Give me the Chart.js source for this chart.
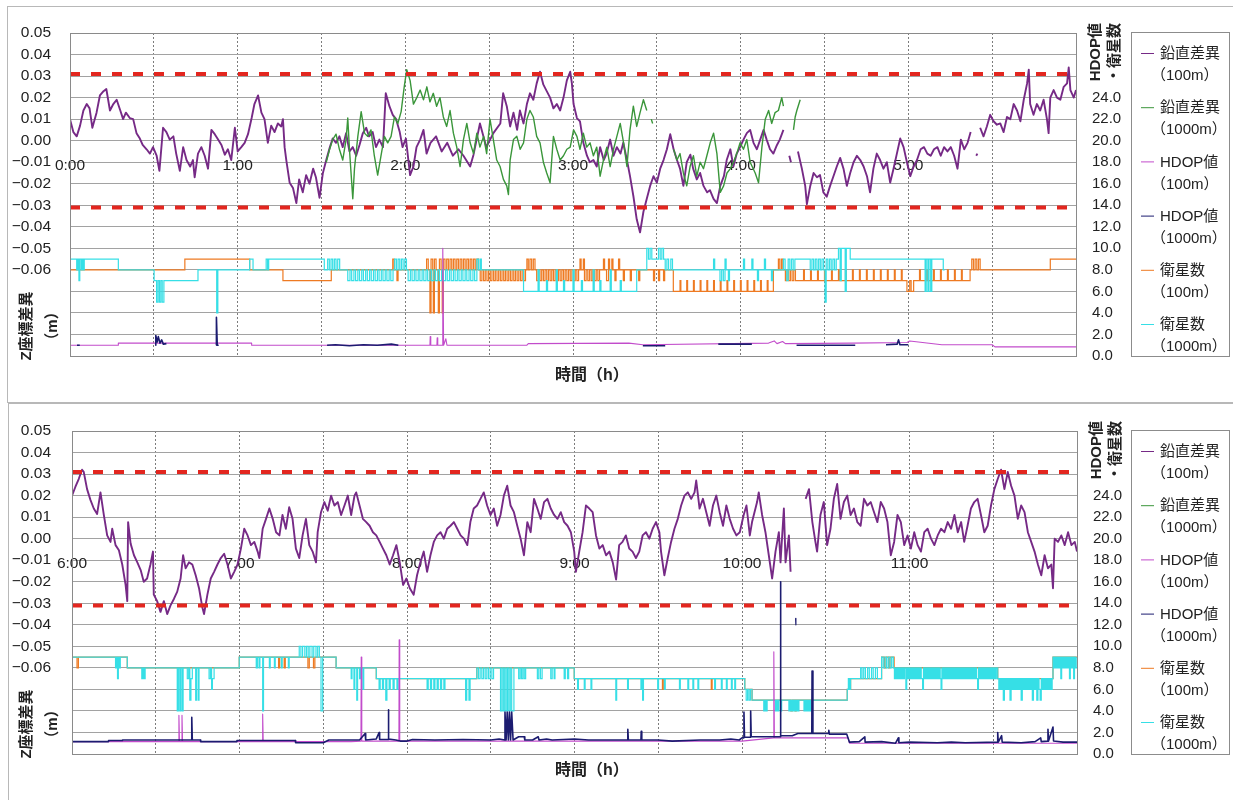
<!DOCTYPE html>
<html><head><meta charset="utf-8">
<script src="https://cdn.jsdelivr.net/npm/chart.js@4.4.0/dist/chart.umd.min.js"></script>
<style>
html,body{margin:0;padding:0;background:#fff;width:1233px;height:800px;overflow:hidden;position:relative}
.frame{position:absolute;border:1px solid #b8b8b8;border-right:none}
#f1{left:7px;top:6px;width:1240px;height:395px}
#f2{left:8px;top:403px;width:1240px;height:400px;border-bottom:none}
canvas{position:absolute;left:0}
#c1{top:0}
#c2{top:398px}
</style></head>
<body>
<div class="frame" id="f1"></div>
<div class="frame" id="f2"></div>
<canvas id="c1" width="1233" height="400"></canvas>
<canvas id="c2" width="1233" height="400"></canvas>
<script>
// ---------- labels ----------
const SERIES_LABELS = ['鉛直差異（100m）','鉛直差異（1000m）','HDOP値（100m）','HDOP値（1000m）','衛星数（100m）','衛星数（1000m）'];
const TOP_HOURS = ['0:00','1:00','2:00','3:00','4:00','5:00'];
const BOTTOM_HOURS = ['6:00','7:00','8:00','9:00','10:00','11:00'];
const Y_TITLE = ['Z座標差異','（m）'];
const Y2_TITLE = ['HDOP値','・衛星数'];
const X_TITLE = '時間（h）';
const THRESHOLD_UPPER = 0.031;
const THRESHOLD_LOWER = -0.031;

// ---------- top panel data: [minute, value] ----------
const vd100Top = [[0,0.010],[1.2,0.004],[2.4,0.002],[3.6,0.007],[4.8,0.014],[6,0.017],[7,0.015],[8,0.006],[9.5,0.013],[10.7,0.021],[12,0.023],[13,0.024],[14.3,0.014],[15.5,0.017],[16.7,0.019],[18,0.014],[19,0.010],[20,0.013],[21.4,0.0105],[22.6,0.010],[23.8,0.0035],[25,0.001],[26,-0.002],[27.4,-0.004],[28.6,-0.006],[29.7,-0.003],[31,-0.007],[32,-0.014],[33.3,0.006],[34.5,0.004],[35.7,0.0005],[37,0.002],[38,-0.006],[39.3,-0.014],[40.5,-0.003],[41.7,-0.009],[43,-0.012],[44,-0.009],[44.6,-0.017],[45.8,-0.006],[47,-0.003],[48.2,-0.007],[49.4,-0.013],[50.6,0.005],[51.8,0.003],[53,0.0005],[54.2,-0.002],[55.4,-0.0065],[56.5,-0.004],[57.7,-0.009],[59,0.006],[60,-0.005],[61.3,-0.003],[62.5,-0.001],[63.7,0.003],[65,0.0105],[66,0.017],[67.3,0.021],[68.5,0.013],[69.6,0.010],[70.8,-0.001],[72,0.007],[73.2,0.004],[74.4,0.008],[75.6,0.0066],[76.2,0.010],[76.8,-0.003],[77.4,-0.009],[78.6,-0.0195],[79.8,-0.022],[81,-0.029],[82,-0.018],[83.3,-0.024],[84.5,-0.016],[85.7,-0.020],[87,-0.013],[88,-0.017],[89.3,-0.0265],[90.5,-0.015],[91.7,-0.009],[93,-0.003],[94,0.001],[95.2,-0.001],[96.4,0.002],[97.6,-0.003],[98.8,0.0035],[100,-0.005],[101.2,-0.003],[102.4,-0.007],[103.6,-0.002],[104.8,0.0035],[106,0.006],[107,0.002],[108.3,0.004],[109.5,-0.003],[110.7,0.0005],[112,-0.003],[113,0.022],[114.3,0.016],[115.5,0.012],[116.7,0.010],[118,0.004],[119,-0.003],[120.2,0.001],[121.7,-0.016],[122.9,-0.012],[124,-0.003],[125.3,0.0005],[126.5,0.005],[127.6,-0.006],[129,-0.001],[131,0.002],[133,-0.005],[135,-0.001],[137,-0.007],[139,-0.004],[140.8,-0.007],[143.2,-0.012],[144.4,-0.0065],[146.7,0.008],[149,-0.003],[151.5,0.0035],[154,0.008],[155,0.022],[156.3,0.016],[157.5,0.0066],[158.7,0.013],[160,0.005],[161,0.014],[162.3,0.008],[163.5,0.017],[164.6,0.022],[165.8,0.019],[167,0.0266],[168.2,0.032],[169.4,0.026],[170.6,0.023],[171.8,0.020],[173,0.015],[174.2,0.017],[175.4,0.014],[176.6,0.020],[177.8,0.028],[179,0.032],[179.6,0.0266],[180.2,0.017],[181.4,0.0105],[182.5,0.009],[183.7,-0.001],[185,-0.007],[186,-0.010],[187.3,-0.009],[188.5,-0.012],[189.7,-0.003],[191,-0.009],[192,-0.006],[193.3,0.0005],[194.5,-0.007],[195.7,-0.003],[197,-0.006],[198,-0.001],[199.3,-0.009],[200.4,-0.0165],[201.6,-0.0257],[202.8,-0.0365],[204,-0.0426],[205.2,-0.033],[206.4,-0.027],[207.6,-0.021],[208.8,-0.0165],[210,-0.0195],[211.2,-0.013],[212.4,-0.009],[213.6,-0.004],[214.8,0.003],[216,-0.004],[217.2,-0.009],[218.3,-0.013],[219.5,-0.021],[220.7,-0.010],[222,-0.0065],[223,-0.013],[224.3,-0.018],[225.5,-0.015],[226.7,-0.021],[228,-0.024],[229,-0.023],[230.3,-0.027],[231.5,-0.029],[232.7,-0.021],[234,-0.0165],[235,-0.009],[236.3,-0.004],[237.4,-0.012],[238.6,-0.006],[239.8,-0.003],[241,0.0005],[242.2,0.0035],[243.4,0.005],[244.6,-0.001],[245.8,-0.004],[247,0.0005],[248.2,0.005],[249.3,0.0005],[250.5,-0.004],[251.7,-0.006],[253,-0.002],[254,0.0005],[255.3,0.005],[256,null],[257.4,-0.007],[258,-0.010],[258.5,null],[260.5,-0.005],[261.9,-0.013],[263.1,-0.021],[263.7,-0.0295],[264.9,-0.021],[266.1,-0.015],[267.3,-0.017],[268.4,-0.016],[269.6,-0.024],[270.8,-0.026],[272,-0.021],[273.2,-0.0165],[274.4,-0.012],[275.6,-0.008],[276.8,-0.013],[278,-0.021],[279.2,-0.015],[280.4,-0.010],[281.6,-0.007],[282.8,-0.009],[284,-0.012],[285.2,-0.0165],[286.3,-0.024],[287.5,-0.013],[288.7,-0.006],[289.9,-0.009],[291.1,-0.013],[292.3,-0.010],[293.5,-0.0195],[294.7,-0.013],[295.9,-0.006],[297.1,0.001],[298.3,-0.003],[299.5,-0.010],[300.7,-0.0165],[301.9,-0.012],[303.1,-0.009],[304.4,-0.004],[305.6,-0.003],[306.8,-0.006],[308,-0.007],[309.2,-0.004],[310.4,-0.003],[311.6,-0.007],[312.8,-0.003],[314,-0.005],[315.2,-0.003],[316.4,-0.007],[317.6,-0.013],[318.8,0.0005],[320,-0.004],[321.2,-0.001],[322.3,0.004],[323,null],[324.3,-0.007],[324.7,-0.006],[325,null],[325.7,0.006],[326.9,0.002],[328.1,0.0066],[329.3,0.012],[330.5,0.009],[331.7,0.0074],[332.9,0.008],[334.1,0.004],[335.3,0.011],[336.5,0.010],[337.7,0.017],[338.9,0.014],[340.1,0.009],[341.3,0.019],[342.5,0.0266],[343.1,0.033],[343.6,0.017],[344.8,0.012],[346,0.017],[347.2,0.014],[348.4,0.019],[349.6,0.010],[350.2,0.0035],[350.8,0.020],[352,0.0235],[353.2,0.020],[354.4,0.019],[355.6,0.025],[356.8,0.0266],[357.4,0.034],[358,0.0235],[359.2,0.020],[360,0.0235]];

const vd1000Top = [[91.7,-0.010],[92.9,-0.004],[94,0.0005],[95.2,0.003],[96.4,-0.004],[97.6,-0.009],[98.8,0.0005],[99.4,0.0105],[100,-0.004],[101.2,-0.027],[101.8,-0.013],[103,0.002],[104.2,0.0135],[105.4,0.0035],[106.5,0.002],[107.7,0.005],[108.9,-0.007],[110.1,-0.016],[111.3,-0.007],[112.5,0.002],[113.7,-0.001],[114.9,0.002],[116.1,0.011],[117.3,0.008],[118.5,0.0135],[119.6,0.025],[120.5,0.033],[121.7,0.028],[122.9,0.017],[124.1,0.020],[125.3,0.0235],[126.5,0.019],[127.7,0.025],[128.8,0.018],[130,0.022],[131.2,0.016],[132.4,0.020],[133.6,0.011],[134.8,0.0066],[136,0.014],[137.2,0.0035],[138.4,-0.003],[139.6,-0.012],[140.8,0.0005],[142,0.008],[143.2,-0.001],[144.4,-0.006],[145.6,0.0035],[146.7,-0.003],[148,0.002],[149.1,-0.006],[150.3,0.010],[151.5,0.0005],[152.7,-0.009],[153.9,-0.012],[155.1,-0.018],[156.3,-0.021],[156.9,-0.025],[157.5,-0.009],[158.7,0.0005],[159.9,0.002],[161.1,-0.004],[162.3,-0.001],[163.5,0.010],[164.6,0.014],[165.8,0.011],[167,0.002],[168.2,-0.001],[169.4,-0.010],[170.6,-0.015],[171.8,-0.0195],[173,0.002],[174.2,-0.004],[175.4,-0.009],[176.6,-0.007],[177.8,-0.004],[179,-0.003],[180.2,0.005],[181.4,0.002],[182.5,-0.004],[183.7,0.0035],[184.9,-0.003],[186.1,-0.001],[187.3,-0.007],[188.5,-0.003],[189.7,-0.0165],[190.9,-0.009],[192.1,-0.003],[193.3,-0.012],[194.5,-0.004],[195.7,0.002],[196.9,0.008],[198.1,-0.001],[199.3,-0.012],[200.4,0.005],[201.6,0.016],[202.8,0.0066],[204,0.013],[205.2,0.019],[206.4,0.014],[207,null],[208,0.010],[208.5,0.008],[209,null],[216,-0.004],[217.2,-0.009],[218.3,-0.006],[219.5,-0.015],[220.7,-0.021],[221.9,-0.012],[223.1,-0.007],[224.3,-0.0165],[225.5,-0.010],[226.7,-0.013],[227.9,-0.007],[229.1,-0.001],[230.3,0.0035],[231.5,-0.006],[232.7,-0.024],[233.9,-0.021],[235.1,-0.015],[236.3,-0.013],[237.4,-0.010],[238.6,-0.006],[239.8,-0.001],[241,-0.004],[242.2,0.0005],[243.4,-0.010],[245.2,-0.015],[246.4,-0.0195],[247.6,-0.003],[248.8,0.010],[250,0.014],[251.1,0.008],[252.3,0.013],[253.5,0.014],[254.7,0.020],[255.3,0.016],[256,null],[258.9,0.005],[259.5,0.011],[260.1,0.014],[261.3,0.019]];

const hdop100Top = [[0,1.0],[17.3,1.0],[17.3,1.2],[65,1.2],[65,1.0],[128.8,1.0],[128.9,1.8],[129.1,1.0],[131.3,1.0],[131.4,1.7],[131.6,1.0],[133.2,1.0],[133.4,10.0],[133.7,1.0],[134.5,1.6],[134.9,1.0],[163.5,1.0],[164,1.15],[200,1.2],[205,1.05],[250,1.2],[252,1.4],[253,1.15],[255,1.35],[256,1.15],[280,1.2],[299.5,1.25],[300.5,1.4],[312,1.05],[330,1.05],[331,0.85],[360,0.85]];

const hdop1000Top = [[2.5,1.0],[3.5,1.0],[3.6,null],[30.5,1.0],[30.7,1.9],[31.2,1.3],[31.6,1.8],[32.2,1.2],[32.8,1.5],[33.4,1.1],[34.5,1.15],[35,null],[52.3,1.0],[52.4,3.6],[52.7,1.0],[53.2,1.0],[53.3,null],[92,1.0],[95,1.05],[100,0.95],[105,1.05],[110,1.0],[115,1.1],[117.5,1.0],[117.6,null],[205,0.95],[213,0.95],[213.1,null],[232,1.1],[244,1.1],[244.1,null],[260,1.0],[281,1.0],[281.1,null],[292,1.05],[296,1.1],[296.5,1.5],[297,1.05],[300,1.05],[300.1,null]];

const sat100Top = [[0,8],[41.1,9],[64.3,8],[76.2,7],[93.5,8],[115.5,9],[116,8],[117,7],[117.4,8],
[127.6,9],[128.2,8],[128.8,4],[129.2,9],[129.8,8],[130,4],[130.4,9],[131,8],[131.8,4],[132.2,9],[132.8,8],[133.2,4],[133.6,9],[134.2,8],[134.8,9],[135.4,8],[136,9],[136.6,8],[137.2,9],[137.8,8],[138.4,9],[139,8],[139.6,9],[140.2,8],[140.8,9],[141.4,8],[142,9],[142.6,8],[143.2,9],[143.8,8],[144.4,9],[145,8],[145.6,9],[146.2,8],
[146.8,7],[147.4,8],[148,7],[148.6,8],[149.2,7],[149.8,8],[150.4,7],[151,8],[151.6,7],[152.2,8],[152.8,7],[153.4,8],[154,7],[154.6,8],[155.2,7],[155.8,8],[156.4,7],[157,8],[157.6,7],[158.2,8],[158.8,7],[159.4,8],[160,7],[160.6,8],[161.2,7],[161.8,8],[162.4,7],[163,8],
[163.5,9],[164,8],[164.6,9],[165.2,8],[165.8,9],[166.4,8],
[167,7],[167.6,8],[168.2,7],[168.8,8],[169.4,7],[170,8],[170.6,7],[171.2,8],[171.8,7],[172.4,8],[173,7],[173.6,8],[174.2,7],[174.8,8],[175.4,7],[176,8],[176.6,7],[177.2,8],[177.8,7],[178.4,8],[179,7],[179.6,8],[180.2,7],[180.8,8],[181.4,7],[182,8],[182.5,9],[182.9,8],[183.7,9],[184.1,7],[184.7,8],[185.3,7],[185.9,8],[186.5,7],[187.1,8],[187.7,7],[188.3,8],[188.9,7],[189.5,8],
[190.9,9],[191.3,8],[192,7],[192.7,9],[193.1,8],[193.9,9],[194.3,8],[195,7],[195.4,8],[196.3,9],[196.7,8],[198,7],[198.4,8],[200.5,7],[200.9,8],[203.5,7],[203.9,8],
[208.8,7],[209.2,8],[210.6,7],[211,8],[212.4,7],[212.8,8],
[215.9,6],[218.3,7],[218.6,6],[220.7,7],[221,6],[223.1,7],[223.4,6],[225.5,7],[225.8,6],[227.9,7],[228.2,6],[230.3,7],[230.6,6],[232.7,7],[233,6],[235.1,7],[235.4,6],[237.5,7],[237.8,6],[239.9,7],[240.2,6],[242.3,7],[242.6,6],[244.7,7],[245,6],[247.1,7],[247.4,6],[249.5,7],[249.8,6],
[251.7,8],[253.5,9],[254,8],[254.6,9],[255.1,8],
[256,7],[256.6,8],[257.2,7],[257.8,8],[258.4,7],[259,8],[259.6,7],
[262.5,8],[262.8,7],[265,8],[265.3,7],[267.5,8],[267.8,7],[270,8],[270.3,7],[272.5,8],[272.8,7],[275,8],[275.3,7],[277.5,8],[277.8,7],[280,8],[280.3,7],[282.5,8],[282.8,7],[285,8],[285.3,7],[287.5,8],[287.8,7],[290,8],[290.3,7],[292.5,8],[292.8,7],[295,8],[295.3,7],[297.5,8],[297.8,7],
[299.5,6],[300.5,7],[301,6],[301.9,7],
[304,8],[304.3,7],[306.5,8],[306.8,7],[309,8],[309.3,7],[311.5,8],[311.8,7],[314,8],[314.3,7],[316.5,8],[316.8,7],[319,8],[319.3,7],
[322.1,8],[322.7,9],[323.3,8],[323.9,9],[324.5,8],[325.1,9],[325.7,8],
[350.8,9],[360,9]];

const sat1000Top = [[0,9],[2.4,8],[2.8,9],[3.2,7],[3.5,9],[4,8],[4.4,9],[4.8,8],[5.1,9],
[17.3,8],
[30.1,7],[31,5],[31.5,7],[32,5],[32.5,7],[33,5],[33.6,7],
[45.8,8],[52.5,4],[52.9,8],
[64.3,9],[65.5,8],[70.2,9],[70.7,8],[71.1,9],
[91,8],[92.2,9],[92.8,8],[93.4,9],[94,8],[94.6,9],[95.2,8],[95.8,9],[96.5,8],
[99.4,7],[100.2,8],[100.8,7],[101.6,8],[102.2,7],[103,8],[103.6,7],[104.4,8],[105,7],[105.8,8],[106.4,7],[107.2,8],[107.8,7],[108.6,8],[109.2,7],[110,8],[110.6,7],[111.4,8],[112,7],[112.8,8],[113.4,7],[114.2,8],[114.8,7],[115.6,8],
[116.2,9],[116.8,8],[117.4,9],[118,8],[118.6,9],[119.2,8],[119.8,9],[120.4,8],
[121,7],[121.8,8],[122.4,7],[123.2,8],[123.8,7],[124.6,8],[125.2,7],[126,8],[126.6,7],[127.4,8],[128,7],[128.8,8],[129.4,7],[130.2,8],[130.8,7],[131.6,8],[132.2,7],[133,8],[133.6,7],[134.4,8],[135,7],[135.8,8],[136.4,7],[137.2,8],[137.8,7],[138.6,8],[139.2,7],[140,8],[140.6,7],[141.4,8],[142,7],[142.8,8],[143.4,7],[144.2,8],[144.8,7],
[145.6,9],[146.2,8],[146.8,9],[147.2,8],
[162.3,6],[167.5,8],[167.9,6],[170.5,7],[170.9,6],[174,8],[174.4,6],[176.6,7],[177,6],[180,8],[180.4,6],[183,7],[183.4,6],[187.2,8],[187.6,6],[189.6,7],[190,6],[193.3,8],[193.7,6],[196.9,7],[197.3,6],[202.8,8],
[206.4,10],[207,9],[207.6,10],[208.2,9],[210.6,10],[211.2,9],[211.8,10],[212.4,9],[213,8],[213.6,9],[214.2,8],[215,9],[215.6,8],
[230.3,9],[230.7,8],[232.6,7],[233.2,8],[233.8,7],[234.4,9],[234.8,8],[235.6,7],[236,8],[241,9],[241.4,8],
[244,9],[244.4,8],[246,7],[246.4,8],[248.5,9],[248.9,8],[251,7],[251.4,8],
[255.3,9],[255.9,8],[256.5,7],[257,9],[257.6,8],[258.2,9],[258.8,8],[259.4,9],
[264.9,8],[265.5,9],[266.1,8],[266.7,9],[267.3,8],[267.9,9],[268.5,8],[269.1,9],[269.7,8],[270.2,5],[270.6,9],[271.2,8],[271.8,9],[272.4,8],[273,9],[273.6,8],[274.2,9],
[275,10],[275.6,7],[276,10],[277.4,6],[277.8,10],[279.2,9],
[306,6],[306.4,9],[307,6],[307.4,9],[308,6],[308.4,9],
[312.5,8],[313,8]];

// ---------- bottom panel data: [minute after 6:00, value] ----------
const vd100Bottom = [[0,0.020],[1.2,0.024],[2.4,0.0277],[3.6,0.032],[4.2,0.031],[5.4,0.023],[6.6,0.018],[7.8,0.014],[9,0.0115],[10.2,0.0215],[11.4,0.011],[12.6,0.0015],[13.8,-0.0015],[14.4,0.0046],[15.6,-0.003],[16.8,-0.0054],[18,-0.012],[19.2,-0.0215],[19.8,-0.029],[20.1,0.0077],[21,-0.0023],[22.2,-0.0077],[23.4,-0.011],[24.6,-0.0146],[25.7,-0.020],[26.9,-0.0185],[28.1,-0.012],[29,-0.006],[29.3,-0.026],[30.5,-0.029],[31.7,-0.034],[32.9,-0.029],[34.1,-0.035],[35.3,-0.031],[36.5,-0.028],[37.7,-0.0246],[38.9,-0.0185],[39.8,-0.0077],[40.7,-0.0138],[41.9,-0.011],[43.1,-0.012],[44.3,-0.017],[45.5,-0.023],[46.7,-0.032],[47.3,-0.035],[48.5,-0.026],[49.7,-0.0185],[50.9,-0.0154],[52.1,-0.012],[53.3,-0.009],[54.5,-0.007],[55.7,-0.012],[56.9,-0.0185],[58.1,-0.0154],[59.3,-0.012],[60.5,-0.0046],[61.7,0.0046],[62.9,0.0015],[64.1,-0.003],[65.3,-0.0015],[66.5,-0.006],[67.1,-0.009],[68.3,0.0046],[69.5,0.0092],[70.7,0.014],[71.9,0.0092],[73.1,0.003],[74.3,0.0015],[75.4,0.011],[76.6,0.0046],[77.8,0.0146],[79,0.0092],[80.2,-0.0046],[81.4,-0.009],[82.6,0.0015],[83.8,0.0092],[85,-0.003],[86.2,-0.006],[87.4,-0.011],[88,0.003],[89.2,0.0123],[90.4,0.017],[91.6,0.013],[92.8,0.020],[94,0.0154],[95.2,0.017],[96.4,0.011],[97.6,0.0154],[98.8,0.020],[100,0.011],[101.2,0.020],[101.8,0.0215],[103,0.0154],[104.2,0.0092],[105.4,0.0077],[106.6,0.006],[107.8,0.003],[109,0.0015],[110.2,-0.0015],[111.4,-0.0046],[112.6,-0.0077],[113.8,-0.012],[115,-0.0077],[116.2,-0.003],[117.4,-0.011],[118.6,-0.0215],[119.8,-0.0185],[121,-0.023],[122.4,-0.026],[123.6,-0.017],[124.8,-0.011],[126,-0.006],[127.2,-0.0154],[128.4,-0.0077],[129.6,-0.0015],[130.8,0.0015],[132,0.003],[133.2,0],[134.4,0.0046],[135.6,0.006],[136.8,0.0077],[138,0.0046],[139.2,0.0015],[140.4,0],[141.6,-0.003],[142.7,0.0077],[143.9,0.014],[145.1,0.0154],[146.3,0.0185],[147.5,0.0215],[148.7,0.0154],[149.9,0.011],[151.1,0.014],[152.3,0.006],[153.5,0.011],[154.7,0.020],[155.9,0.0246],[157.1,0.0154],[158.3,0.0123],[159.5,0.006],[160.7,0],[161.9,-0.0077],[163.1,0.0077],[164.3,0.003],[165.5,0.0185],[166.7,0.014],[167.9,0.0092],[169.1,0.017],[170.3,0.0185],[171.5,0.014],[172.7,0.011],[173.9,0.0092],[175.1,0.0123],[176.3,0.0077],[177.5,0.006],[178.7,0.003],[179.9,-0.006],[180.5,-0.0154],[181.7,-0.006],[182.9,0.003],[184.1,0.0154],[185.3,0.014],[186.5,0.0123],[187.7,0.0015],[188.9,-0.0046],[190.1,-0.003],[191.3,-0.0077],[192.5,-0.006],[193.7,-0.011],[194.9,-0.019],[196,-0.003],[197.2,-0.0015],[198.4,0.0015],[199.6,-0.0046],[200.8,-0.006],[202,-0.009],[203.2,-0.006],[204.4,0.0015],[205.6,0.003],[206.8,0],[208,0.0046],[209.2,0.0077],[210.4,0.003],[211,-0.006],[212.2,-0.017],[213.4,-0.009],[214.6,-0.0015],[215.8,0.0046],[217,0.0092],[218.2,0.0154],[219.4,0.020],[220.6,0.0215],[221.8,0.0185],[223,0.0215],[223.6,0.027],[224.8,0.014],[226,0.0185],[227.2,0.0123],[228.4,0.006],[229.6,0.0154],[230.8,0.020],[232,0.0123],[233.2,0.006],[234.4,0.0154],[235.6,0.0092],[236.8,0.0046],[238,0.0015],[239.2,0.003],[240.6,0.011],[241.6,0.0154],[242.8,0.0015],[243.6,0.0077],[245.4,0.017],[246,0.0215],[247.2,0.011],[248.4,0.003],[249.6,-0.0077],[250.8,-0.0185],[252,-0.006],[253.2,0.003],[253.8,-0.011],[255,0.014],[255.6,-0.011],[256.8,0.0015],[257.4,-0.0154],[258,null],[262.8,0.0185],[264,0.023],[265.2,0.0077],[266.3,-0.0015],[266.9,-0.006],[268.1,0.011],[269.3,0.017],[270.5,-0.003],[271.7,0.0046],[272.9,0.0185],[274.1,0.0254],[275.3,0.0092],[276.5,0.017],[277.7,0.020],[278.9,0.011],[280.1,0.014],[281.3,0.0077],[282.5,0.006],[283.7,0.0185],[284.9,0.0154],[286.1,0.017],[287.3,0.0123],[288.5,0.0077],[289.7,0.017],[290.9,0.014],[292.1,0.0077],[293.3,-0.0077],[294.5,-0.0015],[295.7,0.011],[296.9,0.0077],[298.1,-0.003],[299.3,0.0015],[300.5,-0.0046],[301.7,0.003],[302.9,-0.003],[304.1,-0.006],[305.3,0.003],[306.5,0.0046],[307.7,0],[308.9,-0.003],[310.1,0.0015],[311.3,0.0046],[312.5,0.003],[313.7,0.0077],[314.9,0.0046],[316.1,0.011],[317.3,0.003],[318.5,0.0077],[319.6,-0.0015],[320.8,0.006],[322,0.014],[323.2,0.017],[324.4,0.0185],[325.6,0.011],[326.8,0.003],[328,0.006],[329.2,0.0154],[330.4,0.023],[331.6,0.0277],[332.8,0.032],[334,0.023],[335.2,0.031],[336.4,0.0246],[337.6,0.020],[338.8,0.0092],[340,0.0154],[341.2,0.0123],[342.4,0.003],[343.6,-0.0015],[344.8,-0.006],[346,-0.012],[347.2,-0.017],[348.4,-0.0077],[349.6,-0.0138],[350.8,-0.012],[351.4,-0.023],[352,0],[353.2,-0.0015],[354.4,0.0015],[355.6,-0.003],[356.8,0.003],[358,-0.003],[359.2,-0.0015],[360,-0.006]];

const vd1000Bottom = [];

const hdop100Bottom = [[0,1.15],[38.2,1.15],[38.3,3.6],[38.5,1.15],[39.3,1.15],[39.4,3.6],[39.6,1.15],[68.2,1.15],[68.3,3.7],[68.5,1.15],[100,1.15],[103.5,1.2],[103.6,9.0],[103.8,1.2],[117.1,1.2],[117.2,10.6],[117.4,1.2],[240,1.2],[251.3,1.5],[251.4,9.5],[251.6,1.5],[278,1.5],[278.5,1.0],[360,1.0]];

const hdop1000Bottom = [[0,1.15],[13,1.15],[13.1,1.25],[18,1.25],[18.1,1.3],[42.8,1.3],[42.9,3.4],[43.1,1.3],[46,1.3],[46.1,1.15],[59,1.15],[59.1,1.25],[80,1.25],[80.1,1.05],[90,1.05],[92,1.3],[103,1.3],[105,1.9],[105.2,1.3],[109,1.4],[110,2.0],[110.2,1.35],[113.2,1.35],[113.3,4.1],[113.5,1.4],[116,1.3],[117.6,1.2],[120,1.2],[122,1.35],[130,1.3],[140,1.35],[150,1.3],[153,1.4],[155,1.3],[155.1,3.9],[155.5,1.3],[155.9,3.9],[156.3,1.3],[156.7,3.9],[157.1,1.3],[157.5,3.9],[158,1.3],[160,1.6],[162,1.6],[162.2,1.3],[165,1.3],[167,1.6],[167.3,1.3],[170,1.4],[172,1.3],[180,1.4],[185,1.3],[199,1.3],[199.1,2.3],[199.3,1.3],[203.8,1.3],[203.9,2.1],[204.1,1.3],[210,1.3],[215,1.2],[225,1.3],[232,1.3],[236,1.4],[239,1.3],[240,1.5],[240.6,1.5],[240.7,3.9],[240.9,1.55],[243,1.55],[243.1,4.0],[243.3,1.6],[253.7,1.6],[253.8,16],[253.9,1.7],[258,1.7],[260,1.9],[265,1.9],[265.1,7.7],[265.4,1.9],[271,1.9],[271.1,2.2],[271.3,1.85],[277.5,1.85],[278.5,1.1],[282,1.15],[284,1.6],[284.1,1.1],[290,1.15],[295,1.0],[296,1.5],[296.2,1.05],[300,1.1],[310,1.05],[315,1.1],[320,1.05],[331.5,1.1],[331.6,2.0],[331.8,1.1],[333,1.7],[333.2,1.1],[340,1.05],[345,1.15],[347,1.5],[347.2,1.15],[349.5,1.2],[349.6,2.3],[349.8,1.2],[351.4,2.5],[351.6,1.2],[355,1.1],[360,1.1]];

const hdop1000BottomTick = [[259.2,12.6],[259.3,12.0]];

const sat100Bottom = [[0,9],[1.8,8],[2.3,9],[19.8,8],[59.9,9],[74,8],[74.4,9],[76,8],[76.4,9],[84.5,8],[85,9],[86.5,8],[87,9],[94.6,8],[109,7],[145,8],[179.9,7],[211.5,6],[211.8,7],[229,6],[229.3,7],[241,6],[243.6,5],[257.5,4],[258,5],[259,4],[259.4,5],[277.7,6],[278.9,7],[290,9],[291,8],[291.6,9],[292.5,8],[293,9],[294.5,8],[331.6,7],[351.4,9],[360,9]];

const sat1000Bottom = [[0,9],[15.6,8],[16,9],[16.3,7],[16.6,9],[17,8],[17.3,9],
[19.8,8],[25,7],[25.4,8],[25.8,7],[26.2,8],
[37.7,4],[38.1,8],[38.6,4],[39,8],[39.5,4],[39.8,8],
[41.3,7],[41.8,8],[42.2,5],[42.6,7],[43.1,8],
[44.3,5],[44.6,8],[45.2,5],[45.5,8],
[49.1,7],[49.6,8],[50,6],[50.3,7],[50.9,8],
[59.9,9],[66,8],[66.4,9],[67,8],[67.3,9],[68.3,4],[68.6,9],
[70.7,8],[71,9],[72.5,8],[72.8,9],[75,8],[75.3,9],[77.5,8],[77.8,9],
[81.4,10],[82,9],[82.6,10],[83.4,9],[84,10],[84.6,9],[85.2,10],[86,9],[86.6,10],[87.4,9],[88,10],[88.6,9],
[89.2,4],[89.8,9],
[94.6,8],[100,7],[100.3,8],[101,6],[101.3,8],[102,5],[102.3,8],[103,7],[103.3,8],[104.2,6],[104.5,8],
[109,7],[110,6],[110.4,7],[111.2,6],[111.6,7],[112.4,5],[112.8,7],[113.6,6],[114,7],[115,6],[115.4,7],[116.4,6],[116.8,7],
[127.2,6],[127.6,7],[128.4,6],[128.8,7],[129.6,6],[130,7],[130.8,6],[131.2,7],[132,6],[132.4,7],[133.2,6],[133.6,7],
[141,5],[141.4,7],[142.2,5],[142.6,7],
[145,8],[145.6,7],[146.2,8],[146.8,7],[147.4,8],[148,7],[148.6,8],[149.2,7],[149.8,8],[150.4,7],[151,8],
[153.5,4],[154,8],[154.5,4],[155,8],[155.5,4],[156,8],[156.5,4],[157,8],[157.5,4],[158.3,8],
[160,7],[160.5,8],[161,7],[161.5,8],[162,7],[162.5,8],
[166.7,7],[167.2,8],[167.8,7],[168.4,8],
[171.5,7],[172,8],[172.7,7],[173,8],
[176.3,7],[176.7,8],[177.5,7],[177.9,8],
[179.9,7],[181.1,6],[181.4,7],[183.5,6],[183.8,7],[185.9,6],[186.2,7],[194.8,5],[195.1,7],[199,6],[199.3,7],[203.8,6],[204.1,7],[204.4,5],[204.7,7],[209.8,6],[210.1,7],[212.2,6],[212.5,7],[217.6,6],[217.9,7],[220.6,6],[220.9,7],[222.4,6],[222.7,7],[224.2,6],[224.5,7],[230.2,6],[230.5,7],[232.6,6],[232.9,7],[234.4,6],[234.7,7],[236.2,6],[236.5,7],[237.4,6],[237.7,7],
[241,6],[241.5,5],[242,6],[242.5,5],[243,6],
[243.6,5],[247.8,4],[248.2,5],[248.6,4],[249,5],[252,4],[252.4,5],[252.8,4],[253.2,5],[253.8,4],[254.2,5],[256.8,4],[257.2,5],[257.6,4],[258,5],[258.4,4],[258.8,5],[259.2,4],[259.6,5],[260,4],[260.4,5],[262.2,4],[262.6,5],[263,4],[263.4,5],[263.8,4],[264.2,5],[264.6,4],[265.2,5],
[277.7,6],[278.1,7],[278.5,6],[278.9,7],
[282.5,8],[283,7],[283.6,8],[284.2,7],[285,8],[285.6,7],[286.4,8],[287,7],[287.8,8],[288.5,7],
[290,9],[290.6,8],[291.2,9],[291.8,8],[292.4,9],[293,8],[293.6,9],[294.2,8],
[294.6,7],[295,8],[295.4,7],[295.8,8],[296.2,7],[296.6,8],[297,7],[297.4,8],[297.8,7],[298.2,8],[298.7,6],[299,8],[299.4,7],[299.8,8],[300.2,7],[300.6,8],[301,7],[301.4,8],[301.8,7],[302.2,8],[302.6,7],[303,8],[303.4,7],[303.8,8],[304.2,7],[304.7,6],[305,8],[305.4,7],[305.8,8],[306.2,7],[306.6,8],[307,7],[307.4,8],[307.8,7],[308.2,8],[308.6,7],[309,8],[309.4,7],[309.8,8],[310.2,7],[310.6,8],[311,7],[311.3,6],[311.6,8],[312,7],[312.4,8],[312.8,7],[313.2,8],[313.6,7],[314,8],[314.4,7],[314.8,8],[315.2,7],[315.6,8],[316,7],[316.4,8],[316.8,7],[317.2,8],[317.6,7],[318,8],[318.4,7],[318.8,8],[319.2,7],[319.6,8],[320,7],[320.4,8],[320.8,7],[321.2,8],[321.6,7],[322,8],[322.4,7],[322.8,8],[323.2,7],[323.6,8],[324,7],[324.4,6],[324.7,8],[325.1,7],[325.5,8],[325.9,7],[326.3,8],[326.7,7],[327.1,8],[327.5,7],[327.9,8],[328.3,7],[328.7,8],[329.1,7],[329.5,8],[329.9,7],[330.3,8],[330.7,7],[331.1,8],
[331.6,7],[332,6],[332.4,7],[332.8,6],[333.2,7],[333.6,5],[334,7],[334.4,6],[334.8,7],[335.2,6],[335.6,7],[336,5],[336.4,7],[336.8,6],[337.2,7],[337.6,6],[338,7],[338.4,6],[338.8,7],[339.2,6],[339.6,7],[340,5],[340.4,7],[340.8,6],[341.2,7],[341.6,6],[342,7],[342.4,6],[342.8,7],[343.2,6],[343.6,7],[344,5],[344.4,7],[344.8,6],[345.2,7],[345.6,5],[346,7],[346.4,6],[346.8,5],[347.2,7],[347.6,6],[348,7],[348.4,6],[348.8,7],[349.2,6],[349.6,7],[350,6],[350.4,7],[350.8,6],[351.1,7],
[351.4,9],[351.8,8],[352.2,9],[352.6,8],[353,9],[353.4,8],[353.8,9],[354.2,7],[354.5,9],[354.9,8],[355.3,9],[355.7,8],[356.1,9],[356.5,8],[356.9,9],[357.3,7],[357.6,9],[358,8],[358.4,9],[358.8,7],[359.1,9],[359.5,8],[360,9]];

// ---------- rendering ----------
const FONT = "'Liberation Sans','Noto Sans CJK JP',sans-serif";
Chart.defaults.font.family = FONT;
const COLORS = {vd100:'#762a86', vd1000:'#3a963a', hdop100:'#c24ccb', hdop1000:'#1c1c70',
  sat100:'#ee7a22', sat1000:'#36dfe6', red:'#e3261f'};
const Y2_WIDTH = 60;

const pts = a => a.map(([x, y]) => ({x, y}));

const decorPlugin = {
  id: 'decor',
  afterDraw(chart) {
    const o = chart.options.plugins.decor;
    const {ctx, chartArea: a} = chart;
    ctx.save();
    ctx.strokeStyle = '#8a8a8a'; ctx.lineWidth = 1;
    ctx.strokeRect(a.left + 0.5, a.top + 0.5, a.right - a.left, a.bottom - a.top);
    ctx.fillStyle = '#222';
    ctx.font = 'bold 15px ' + FONT;
    ctx.textBaseline = 'middle';
    [[Y_TITLE[0], 27], [Y_TITLE[1], 53]].forEach(([t, x]) => {
      ctx.save(); ctx.translate(x, 326); ctx.rotate(-Math.PI / 2);
      ctx.textAlign = 'center'; ctx.fillText(t, 0, 0); ctx.restore();
    });
    [[Y2_TITLE[0], a.right + 20], [Y2_TITLE[1], a.right + 39]].forEach(([t, x]) => {
      ctx.save(); ctx.translate(x, 23); ctx.rotate(-Math.PI / 2);
      ctx.textAlign = 'right'; ctx.fillText(t, 0, 0); ctx.restore();
    });
    ctx.font = 'bold 16px ' + FONT;
    ctx.textAlign = 'left';
    ctx.fillText(X_TITLE, 555, o.xTitleY);
    const lx = 1131, ly = 32, lw = 98, lh = 324;
    ctx.strokeStyle = '#8c8c8c'; ctx.lineWidth = 1;
    ctx.strokeRect(lx + 0.5, ly + 0.5, lw, lh);
    ctx.font = '15px ' + FONT;
    chart.data.datasets.slice(0, 6).forEach((ds, i) => {
      const y = ly + 21 + i * 54.2;
      ctx.strokeStyle = ds.borderColor; ctx.lineWidth = 1;
      ctx.beginPath(); ctx.moveTo(lx + 10, y + 0.5); ctx.lineTo(lx + 23, y + 0.5); ctx.stroke();
      const k = ds.label.indexOf('（');
      ctx.fillStyle = '#222';
      ctx.fillText(ds.label.slice(0, k), lx + 29, y + 1);
      ctx.fillText(ds.label.slice(k), lx + 20, y + 23);
    });
    ctx.restore();
  }
};

function build(id, hours, d, geo) {
  const line = (label, data, color, width, order, extra) => Object.assign({
    label, data: pts(data), borderColor: color, backgroundColor: color, borderWidth: width,
    pointRadius: 0, tension: 0, fill: false, spanGaps: false, order, borderJoinStyle: 'round'
  }, extra || {});
  return new Chart(document.getElementById(id), {
    type: 'line',
    data: {datasets: [
      line(SERIES_LABELS[0], d.vd100, COLORS.vd100, 1.9, 7),
      line(SERIES_LABELS[1], d.vd1000, COLORS.vd1000, 1.4, 6),
      line(SERIES_LABELS[2], d.hdop100, COLORS.hdop100, 1.1, 3, {yAxisID: 'y2'}),
      line(SERIES_LABELS[3], d.hdop1000, COLORS.hdop1000, 1.6, 2, {yAxisID: 'y2'}),
      line(SERIES_LABELS[4], d.sat100, COLORS.sat100, 1.2, 5, {yAxisID: 'y2', stepped: true, borderJoinStyle: 'miter'}),
      line(SERIES_LABELS[5], d.sat1000, COLORS.sat1000, 1.2, 4, {yAxisID: 'y2', stepped: true, borderJoinStyle: 'miter'}),
      line('HDOP tick', d.hdopTick || [], COLORS.hdop1000, 1.2, 2, {yAxisID: 'y2'}),
      line('upper', [[0, THRESHOLD_UPPER], [360, THRESHOLD_UPPER]], COLORS.red, 4, 0, {borderDash: [10, 11]}),
      line('lower', [[0, THRESHOLD_LOWER], [360, THRESHOLD_LOWER]], COLORS.red, 4, 0, {borderDash: [10, 11]})
    ]},
    options: {
      responsive: false, animation: false, devicePixelRatio: 1,
      layout: {padding: {left: 0, top: 33, right: 1233 - geo.right - Y2_WIDTH, bottom: 44}},
      plugins: {legend: {display: false}, tooltip: {enabled: false}, decor: {xTitleY: geo.xTitleY}},
      scales: {
        x: {type: 'linear', axis: 'x', position: {y: 0}, min: 0, max: 360,
          ticks: {stepSize: 30, autoSkip: false, maxRotation: 0, padding: 16, color: '#222', font: {size: 15.5},
            callback: v => (v % 60 === 0 && v < 360) ? hours[v / 60] : ''},
          grid: {color: '#7c7c7c', lineWidth: 1, drawTicks: false},
          border: {display: false, dash: [2, 2]}},
        y: {type: 'linear', position: 'left', min: -0.1, max: 0.05,
          ticks: {stepSize: 0.01, maxTicksLimit: 40, autoSkip: false, padding: geo.left - 51, color: '#222', font: {size: 15.5},
            callback: v => { const k = Math.round(v * 100); if (k < -6) return ''; return (k < 0 ? '\u2212' : '') + (Math.abs(k) / 100).toFixed(2); }},
          grid: {color: '#a2a2a2', lineWidth: 1, drawTicks: false},
          border: {display: false},
          afterFit: s => { s.width = geo.left; }},
        y2: {type: 'linear', position: 'right', min: 0, max: 30,
          ticks: {stepSize: 2, maxTicksLimit: 40, autoSkip: false, padding: 16, color: '#222', font: {size: 15},
            callback: v => v > 24 ? '' : v.toFixed(1)},
          grid: {display: false, drawTicks: false},
          border: {display: false},
          afterFit: s => { s.width = Y2_WIDTH; }}
      }
    },
    plugins: [decorPlugin]
  });
}

build('c1', TOP_HOURS, {vd100: vd100Top, vd1000: vd1000Top, hdop100: hdop100Top, hdop1000: hdop1000Top,
  sat100: sat100Top, sat1000: sat1000Top}, {left: 70, right: 1076, xTitleY: 376});
build('c2', BOTTOM_HOURS, {vd100: vd100Bottom, vd1000: vd1000Bottom, hdop100: hdop100Bottom,
  hdop1000: hdop1000Bottom, sat100: sat100Bottom, sat1000: sat1000Bottom, hdopTick: hdop1000BottomTick},
  {left: 72, right: 1077, xTitleY: 373});
</script>
</body></html>
